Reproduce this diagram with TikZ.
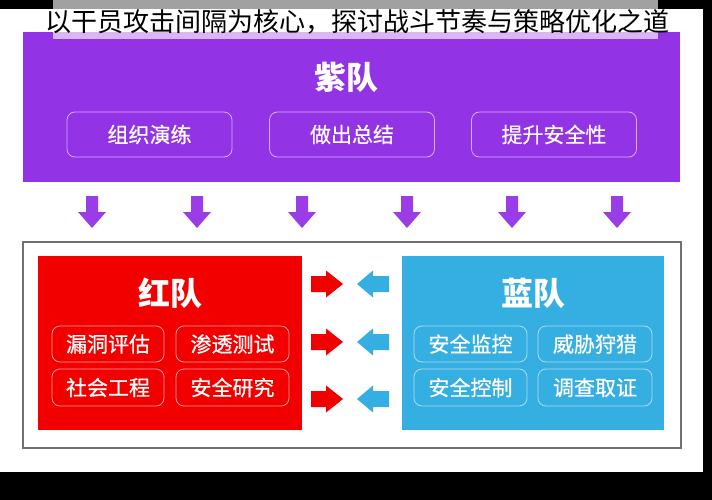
\documentclass[tikz,border=0pt]{standalone}
\usepackage{fontspec}
\newfontfamily\cjk{Noto Sans CJK SC}
\newfontfamily\cjkmid{Noto Sans CJK SC}[FakeBold=0.6]
\usetikzlibrary{positioning}

\definecolor{zi}{HTML}{9333E6}
\definecolor{ziarrow}{HTML}{9A3CE8}
\definecolor{hong}{HTML}{F20000}
\definecolor{lan}{HTML}{35AEE2}
\definecolor{zirim}{HTML}{D9ACF7}
\definecolor{hongrim}{HTML}{FF9C9C}
\definecolor{lanrim}{HTML}{AADDF5}
\definecolor{frame}{HTML}{707070}

\tikzset{
  teamtitle/.style = {text=white, font=\cjk\bfseries\fontsize{32}{32}\selectfont},
  taskbox/.style   = {draw, rounded corners=8pt, line width=0.8pt, text=white,
                      font=\cjkmid\fontsize{21}{21}\selectfont, inner sep=0pt},
  zibox/.style     = {taskbox, draw=zirim, minimum width=165pt, minimum height=45pt},
  hongbox/.style   = {taskbox, draw=hongrim, minimum width=112pt, minimum height=36pt},
  lanbox/.style    = {taskbox, draw=lanrim, minimum width=113pt, minimum height=36pt},
}

\begin{document}
\begin{tikzpicture}[x=1pt, y=-1pt]
  \useasboundingbox (0,0) rectangle (712,500);

  % screenshot frame
  \fill[black] (0,0) rectangle (712,500);
  \fill[white] (0,9) rectangle (703,472);
  \fill[black!37] (53,0) rectangle (658,9);

  % purple team
  \node (zipanel) [fill=zi, minimum width=657pt, minimum height=150pt, inner sep=0pt]
        at (351.5,107) {};
  \fill[white, opacity=0.65] (53,9) rectangle (658,39);
  \node (caption) at (357,22) {\cjk\fontsize{26}{26}\selectfont 以干员攻击间隔为核心，探讨战斗节奏与策略优化之道};

  \node (zidui) [teamtitle] at (346,77) {紫队};
  \node (yanlian)   [zibox] at (149.5,134.5) {组织演练};
  \node (zongjie)   [zibox] at (352,134.5)   {做出总结};
  \node (anquanxing)[zibox] at (554,134.5)   {提升安全性};

  % arrows down to the two teams
  \foreach \x in {92,197,302,407,512,617}
    \fill[ziarrow, shift={(\x,196)}]
      (-6,0) -- (6,0) -- (6,16) -- (14,16) -- (0,32) -- (-14,16) -- (-6,16) -- cycle;

  % red and blue teams
  \node (arena) [draw=frame, line width=1.5pt, minimum width=658pt, minimum height=206pt,
                 inner sep=0pt] at (352,345) {};

  \node (hongpanel) [fill=hong, minimum width=264pt, minimum height=174pt, inner sep=0pt]
        at (170,343) {};
  \node (hongdui) [teamtitle] at (170,293) {红队};
  \node (loudong)   [hongbox] at (108,344)   {漏洞评估};
  \node (shentou)   [hongbox, minimum width=113pt] at (232.5,344) {渗透测试};
  \node (shegong)   [hongbox, minimum height=37pt] at (108,387.5) {社会工程};
  \node (yanjiu)    [hongbox, minimum width=113pt, minimum height=37pt] at (232.5,387.5) {安全研究};

  \node (lanpanel) [fill=lan, minimum width=262pt, minimum height=174pt, inner sep=0pt]
        at (533,343) {};
  \node (landui) [teamtitle] at (533,293) {蓝队};
  \node (jiankong)  [lanbox] at (470.5,344) {安全监控};
  \node (shoulie)   [lanbox, minimum width=114pt] at (595,344) {威胁狩猎};
  \node (kongzhi)   [lanbox, minimum height=37pt] at (470.5,387.5) {安全控制};
  \node (quzheng)   [lanbox, minimum width=114pt, minimum height=37pt] at (595,387.5) {调查取证};

  % attack and defence arrows
  \foreach \y in {284,342,399} {
    \fill[hong, shift={(311,\y)}]
      (0,-8) -- (15,-8) -- (15,-13.5) -- (32,0) -- (15,13.5) -- (15,8) -- (0,8) -- cycle;
    \fill[lan, shift={(389,\y)}]
      (0,-8) -- (-16,-8) -- (-16,-13.5) -- (-32,0) -- (-16,13.5) -- (-16,8) -- (0,8) -- cycle;
  }
\end{tikzpicture}
\end{document}
